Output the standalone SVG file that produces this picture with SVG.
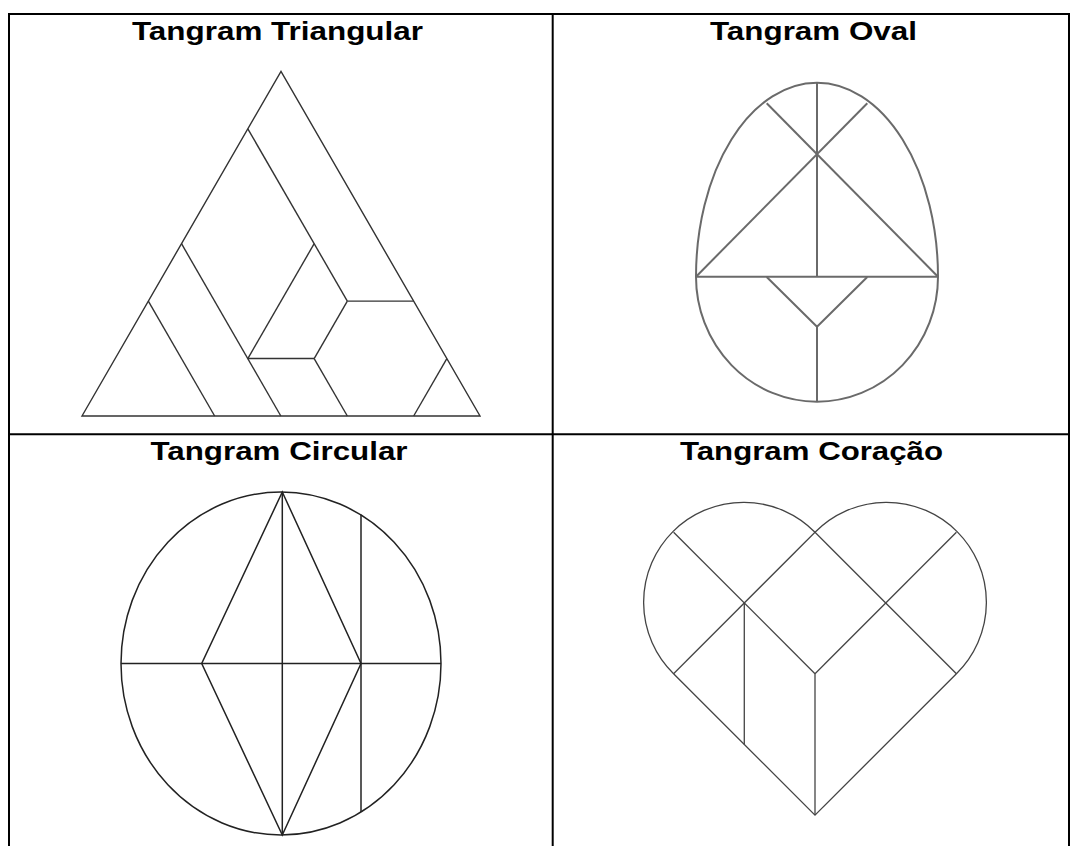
<svg xmlns="http://www.w3.org/2000/svg" width="1070" height="846" viewBox="0 0 1070 846">
<style>
.title{font-family:"Liberation Sans",Arial,sans-serif;font-weight:bold;font-size:25px;fill:#000;text-anchor:middle}
.grid{stroke:#000;stroke-width:2;fill:none}
.tri{stroke:#333;stroke-width:1.4;fill:none;stroke-linejoin:miter}
.oval{stroke:#6a6a6a;stroke-width:2;fill:none;stroke-linejoin:round}
.circ{stroke:#222;stroke-width:1.5;fill:none}
.heart{stroke:#444;stroke-width:1.3;fill:none}
</style>
<rect width="1070" height="846" fill="#fff"/>
<g id="table">
<line class="grid" x1="8" y1="14" x2="1070" y2="14"/>
<line class="grid" x1="9" y1="13" x2="9" y2="846"/>
<line class="grid" x1="552.7" y1="14" x2="552.7" y2="846"/>
<line class="grid" x1="1069" y1="14" x2="1069" y2="846"/>
<line class="grid" x1="9" y1="434.3" x2="1070" y2="434.3"/>
</g>
<g id="titles">
<text class="title" x="277.5" y="39.5" textLength="291" lengthAdjust="spacingAndGlyphs">Tangram Triangular</text>
<text class="title" x="813.5" y="39.5" textLength="207" lengthAdjust="spacingAndGlyphs">Tangram Oval</text>
<text class="title" x="279" y="460" textLength="257" lengthAdjust="spacingAndGlyphs">Tangram Circular</text>
<text class="title" x="811.5" y="460" textLength="263" lengthAdjust="spacingAndGlyphs">Tangram Coração</text>
</g>
<g id="triangular">
<polygon class="tri" points="82,416 281,71.4 480,416"/>
<line class="tri" x1="148.33" y1="301.12" x2="214.67" y2="416"/>
<line class="tri" x1="181.5" y1="243.68" x2="280.83" y2="416"/>
<line class="tri" x1="247.83" y1="128.8" x2="347.33" y2="301.12"/>
<line class="tri" x1="347.33" y1="301.12" x2="413.67" y2="301.12"/>
<line class="tri" x1="314.17" y1="243.68" x2="247.83" y2="358.56"/>
<line class="tri" x1="247.83" y1="358.56" x2="314.17" y2="358.56"/>
<line class="tri" x1="314.17" y1="358.56" x2="347.33" y2="301.12"/>
<line class="tri" x1="314.17" y1="358.56" x2="347.33" y2="416"/>
<line class="tri" x1="446.83" y1="358.56" x2="413.67" y2="416"/>
</g>
<g id="oval">
<path class="oval" d="M696,276.7 A121,194 0 0 1 938,276.7 A121,125 0 0 1 696,276.7 Z"/>
<line class="oval" x1="696" y1="276.7" x2="938" y2="276.7"/>
<line class="oval" x1="817" y1="82.7" x2="817" y2="276.7"/>
<line class="oval" x1="766.7" y1="103.3" x2="938" y2="276.7"/>
<line class="oval" x1="867.3" y1="103.3" x2="696" y2="276.7"/>
<polyline class="oval" points="766.7,277 817,326.7 867.3,277"/>
<line class="oval" x1="817" y1="326.7" x2="817" y2="401.7"/>
</g>
<g id="circular">
<ellipse class="circ" cx="281" cy="663.5" rx="160" ry="171.5"/>
<line class="circ" x1="121" y1="663.5" x2="441" y2="663.5"/>
<line class="circ" x1="282.3" y1="492" x2="282.3" y2="835"/>
<polygon class="circ" points="282.3,492 361,663.5 282.3,835 201.7,663.5"/>
<line class="circ" x1="361" y1="514.5" x2="361" y2="812"/>
</g>
<g id="heart">
<path class="heart" d="M673.58,673.7 A100,100 0 1 1 815,532.29 A100,100 0 1 1 956.42,673.7 L815,815.12 Z"/>
<line class="heart" x1="673.58" y1="532.29" x2="815" y2="673.7"/>
<line class="heart" x1="815" y1="532.29" x2="673.58" y2="673.7"/>
<line class="heart" x1="815" y1="532.29" x2="956.42" y2="673.7"/>
<line class="heart" x1="956.42" y1="532.29" x2="815" y2="673.7"/>
<line class="heart" x1="815" y1="673.7" x2="815" y2="815.12"/>
<line class="heart" x1="744.29" y1="603" x2="744.29" y2="744.41"/>
</g>
</svg>
